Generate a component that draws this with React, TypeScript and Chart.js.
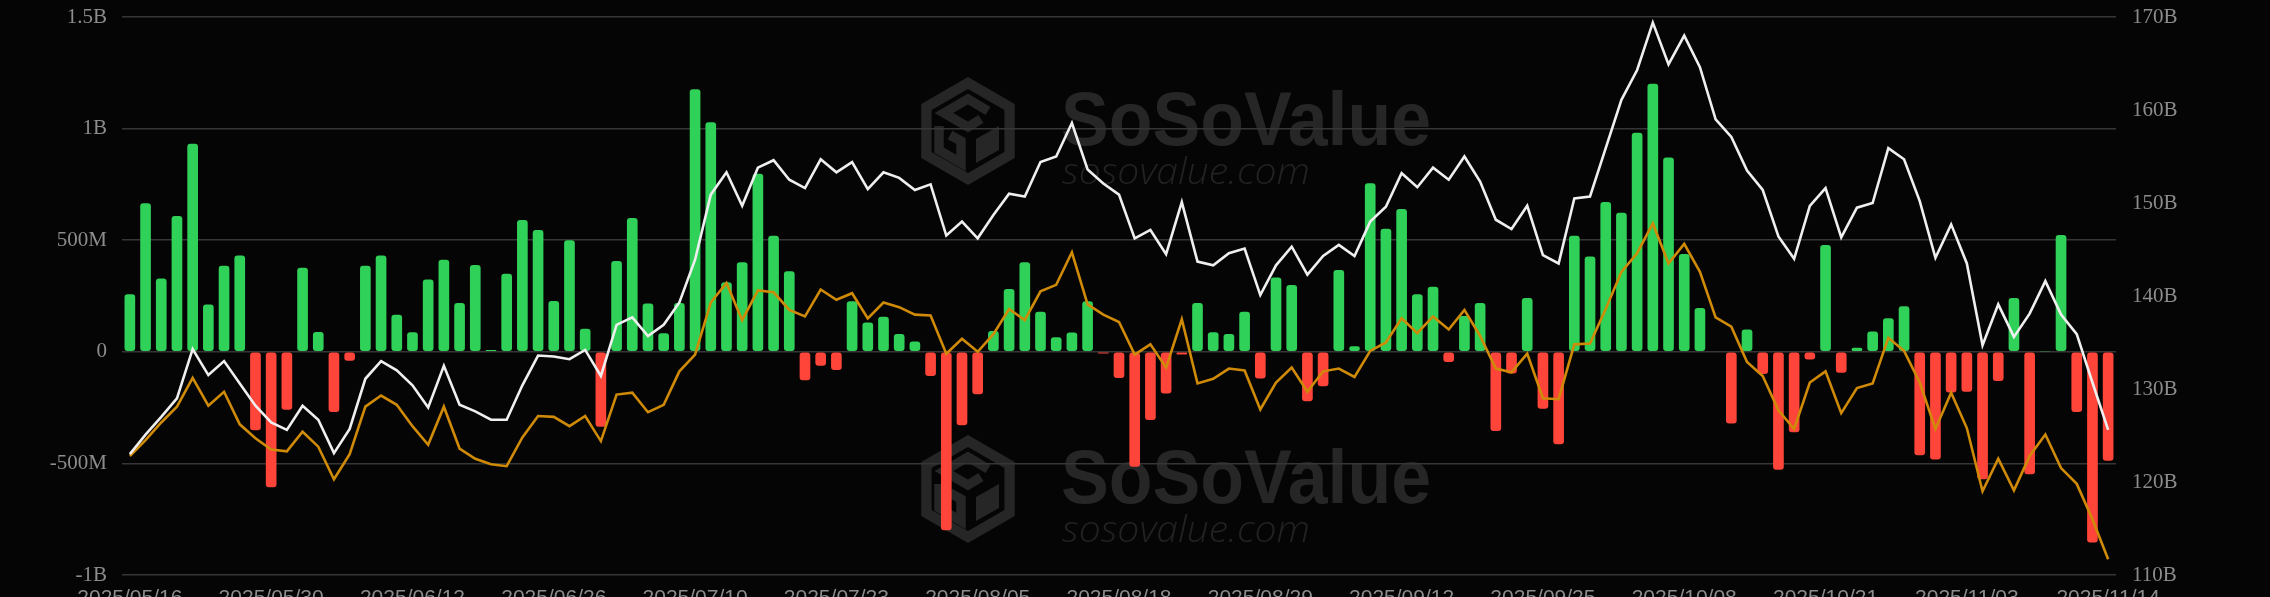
import React, { useEffect, useRef } from 'react';
import { Chart, registerables } from 'chart.js';

Chart.register(...registerables);

// ---- DATA ----
const dates: string[] = [
  '2025/05/16', '2025/05/19', '2025/05/20', '2025/05/21', '2025/05/22', '2025/05/23', '2025/05/27', '2025/05/28', '2025/05/29', '2025/05/30',
  '2025/06/02', '2025/06/03', '2025/06/04', '2025/06/05', '2025/06/06', '2025/06/09', '2025/06/10', '2025/06/11', '2025/06/12', '2025/06/13',
  '2025/06/16', '2025/06/17', '2025/06/18', '2025/06/20', '2025/06/23', '2025/06/24', '2025/06/25', '2025/06/26', '2025/06/27', '2025/06/30',
  '2025/07/01', '2025/07/02', '2025/07/03', '2025/07/07', '2025/07/08', '2025/07/09', '2025/07/10', '2025/07/11', '2025/07/14', '2025/07/15',
  '2025/07/16', '2025/07/17', '2025/07/18', '2025/07/21', '2025/07/22', '2025/07/23', '2025/07/24', '2025/07/25', '2025/07/28', '2025/07/29',
  '2025/07/30', '2025/07/31', '2025/08/01', '2025/08/04', '2025/08/05', '2025/08/06', '2025/08/07', '2025/08/08', '2025/08/11', '2025/08/12',
  '2025/08/13', '2025/08/14', '2025/08/15', '2025/08/18', '2025/08/19', '2025/08/20', '2025/08/21', '2025/08/22', '2025/08/25', '2025/08/26',
  '2025/08/27', '2025/08/28', '2025/08/29', '2025/09/02', '2025/09/03', '2025/09/04', '2025/09/05', '2025/09/08', '2025/09/09', '2025/09/10',
  '2025/09/11', '2025/09/12', '2025/09/15', '2025/09/16', '2025/09/17', '2025/09/18', '2025/09/19', '2025/09/22', '2025/09/23', '2025/09/24',
  '2025/09/25', '2025/09/26', '2025/09/29', '2025/09/30', '2025/10/01', '2025/10/02', '2025/10/03', '2025/10/06', '2025/10/07', '2025/10/08',
  '2025/10/09', '2025/10/10', '2025/10/13', '2025/10/14', '2025/10/15', '2025/10/16', '2025/10/17', '2025/10/20', '2025/10/21', '2025/10/22',
  '2025/10/23', '2025/10/24', '2025/10/27', '2025/10/28', '2025/10/29', '2025/10/30', '2025/10/31', '2025/11/03', '2025/11/04', '2025/11/05',
  '2025/11/06', '2025/11/07', '2025/11/10', '2025/11/11', '2025/11/12', '2025/11/13', '2025/11/14',
];

const shownDates: string[] = [
  '2025/05/16', '2025/05/30', '2025/06/12', '2025/06/26', '2025/07/10', '2025/07/23', '2025/08/05', '2025/08/18',
  '2025/08/29', '2025/09/12', '2025/09/25', '2025/10/08', '2025/10/21', '2025/11/03', '2025/11/14',
];

// daily net inflow, in millions of USD (left axis)
const netInflowM: number[] = [
  258, 665, 328, 608, 932, 212, 385, 432, -351, -607,
  -260, 377, 89, -270, -40, 386, 432, 166, 88, 324,
  412, 219, 389, 8, 350, 590, 546, 228, 500, 103,
  -336, 407, 600, 216, 83, 219, 1176, 1029, 312, 401,
  798, 520, 361, -128, -62, -82, 227, 131, 157, 80,
  46, -108, -799, -329, -190, 93, 281, 401, 179, 65,
  86, 227, -8, -117, -515, -306, -187, -12, 219, 88,
  80, 179, -120, 333, 299, -221, -154, 366, 25, 755,
  551, 640, 258, 292, -46, 160, 219, -355, -97, 241,
  -255, -414, 520, 427, 671, 623, 981, 1201, 870, 438,
  196, -3, -321, 100, -100, -529, -360, -35, 478, -94,
  18, 91, 150, 204, -463, -483, -182, -179, -571, -131,
  241, -549, 3, 523, -270, -854, -488,
];

// white line, billions of USD (right axis)
const whiteLineB: number[] = [
  123.0, 125.1, 127.0, 129.0, 134.3, 131.5, 133.0, 130.6, 128.2, 126.4,
  125.6, 128.2, 126.7, 123.1, 125.7, 131.1, 133.0, 132.0, 130.4, 128.0,
  132.5, 128.3, 127.6, 126.7, 126.7, 130.4, 133.6, 133.5, 133.2, 134.2,
  131.4, 136.9, 137.7, 135.7, 136.9, 139.3, 143.9, 150.9, 153.3, 149.7,
  153.8, 154.6, 152.5, 151.6, 154.7, 153.3, 154.4, 151.5, 153.3, 152.7,
  151.4, 152.0, 146.5, 148.0, 146.2, 148.7, 151.0, 150.7, 154.4, 155.0,
  158.6, 153.6, 152.1, 150.9, 146.2, 147.1, 144.5, 150.1, 143.7, 143.3,
  144.6, 145.1, 140.1, 143.3, 145.3, 142.3, 144.3, 145.5, 144.3, 148.0,
  149.6, 153.2, 151.7, 153.8, 152.5, 155.0, 152.3, 148.2, 147.2, 149.7,
  144.4, 143.5, 150.5, 150.7, 155.9, 161.1, 164.3, 169.4, 164.9, 168.0,
  164.6, 159.0, 157.1, 153.5, 151.4, 146.4, 144.0, 149.7, 151.6, 146.3,
  149.5, 150.0, 155.9, 154.7, 150.2, 144.1, 147.7, 143.5, 134.7, 139.1,
  135.6, 138.1, 141.6, 138.0, 135.9, 130.7, 125.6,
];

// gold line, billions of USD (right axis)
const goldLineB: number[] = [
  122.8, 124.5, 126.4, 128.1, 131.2, 128.2, 129.7, 126.2, 124.7, 123.5,
  123.3, 125.4, 123.8, 120.3, 123.0, 128.1, 129.3, 128.3, 126.0, 124.0,
  128.1, 123.6, 122.5, 121.9, 121.7, 124.8, 127.1, 127.0, 126.0, 127.1,
  124.4, 129.4, 129.6, 127.5, 128.3, 131.9, 133.7, 139.3, 141.4, 137.4,
  140.6, 140.4, 138.5, 137.8, 140.7, 139.6, 140.3, 137.6, 139.3, 138.8,
  138.0, 137.9, 133.8, 135.4, 134.0, 135.9, 138.6, 137.4, 140.5, 141.2,
  144.7, 139.1, 138.0, 137.2, 133.7, 134.8, 132.3, 137.5, 130.6, 131.1,
  132.2, 132.0, 127.8, 130.7, 132.3, 129.7, 131.9, 132.2, 131.3, 134.1,
  135.0, 137.6, 136.0, 137.8, 136.4, 138.5, 135.7, 132.2, 131.8, 133.8,
  129.0, 128.9, 134.8, 134.9, 138.6, 142.6, 144.6, 147.8, 143.5, 145.6,
  142.6, 137.7, 136.7, 132.9, 131.4, 127.7, 125.7, 130.7, 131.9, 127.4,
  130.1, 130.6, 135.5, 134.1, 130.7, 125.7, 129.6, 125.8, 119.0, 122.5,
  119.1, 122.8, 125.1, 121.5, 119.8, 116.0, 111.7,
];

const leftAxisM = { min: -1000, max: 1500, step: 500 };
const rightAxisB = { min: 110, max: 170, step: 10 };

// ---- STYLE ----
const W = 2270;
const H = 597;
const BG = '#050505';
const GREEN = '#30D158';
const RED = '#FF453A';
const WHITE = '#efefef';
const GOLD = '#cf8a08';
const GRID = '#363636';
const TICK = '#8c8c8c';
const WM = '#262626';

function fmtLeft(v: number): string {
  if (v === 0) return '0';
  if (Math.abs(v) >= 1000) return `${v / 1000}B`;
  return `${v}M`;
}

function drawLogo(ctx: CanvasRenderingContext2D, cx: number, cy: number) {
  const R = 54;
  const hex = (r: number) => {
    ctx.beginPath();
    for (let k = 0; k < 6; k++) {
      const a = (-90 + k * 60) * Math.PI / 180;
      const x = cx + r * Math.cos(a);
      const y = cy + r * Math.sin(a);
      if (k === 0) ctx.moveTo(x, y); else ctx.lineTo(x, y);
    }
    ctx.closePath();
  };
  ctx.fillStyle = WM;
  hex(R);
  ctx.fill();
  ctx.fillStyle = BG;
  hex(R - 12);
  ctx.fill();
  ctx.strokeStyle = WM;
  ctx.fillStyle = WM;
  ctx.lineWidth = 9.5;
  ctx.lineJoin = 'miter';
  ctx.beginPath();
  ctx.moveTo(cx + 20, cy - 20);
  ctx.lineTo(cx, cy - 32);
  ctx.lineTo(cx - 24, cy - 18);
  ctx.lineTo(cx, cy - 4);
  ctx.lineTo(cx + 13, cy - 12);
  ctx.stroke();
  ctx.beginPath();
  ctx.moveTo(cx - 29, cy - 5);
  ctx.lineTo(cx - 29, cy + 19);
  ctx.lineTo(cx - 7, cy + 32);
  ctx.lineTo(cx - 7, cy + 10);
  ctx.lineTo(cx - 18, cy + 4);
  ctx.stroke();
  ctx.beginPath();
  ctx.moveTo(cx + 8, cy + 8);
  ctx.lineTo(cx + 31, cy - 5);
  ctx.lineTo(cx + 31, cy + 19);
  ctx.lineTo(cx + 8, cy + 32);
  ctx.closePath();
  ctx.fill();
}

function fitText(ctx: CanvasRenderingContext2D, text: string, x: number, y: number, width: number) {
  const m = ctx.measureText(text).width;
  ctx.save();
  ctx.translate(x, y);
  ctx.scale(width / m, 1);
  ctx.fillText(text, 0, 0);
  ctx.restore();
}

const watermarkPlugin = {
  id: 'sosoWatermark',
  beforeDraw(chart: any) {
    const ctx: CanvasRenderingContext2D = chart.ctx;
    ctx.save();
    ctx.fillStyle = BG;
    ctx.fillRect(0, 0, chart.width, chart.height);
    for (const dy of [0, 358]) {
      drawLogo(ctx, 968, 131 + dy);
      ctx.fillStyle = WM;
      ctx.textBaseline = 'alphabetic';
      ctx.textAlign = 'left';
      ctx.font = 'bold 76px "Liberation Sans", Arial, sans-serif';
      fitText(ctx, 'SoSoValue', 1061, 145 + dy, 370);
      ctx.fillStyle = '#222222';
      ctx.font = 'italic 300 37px "Open Sans", "Liberation Sans", sans-serif';
      fitText(ctx, 'sosovalue.com', 1062, 184 + dy, 248);
    }
    ctx.restore();
  },
};

const noVerticalPadding = (s: any, width: number) => {
  s.width = width;
  s.paddingTop = 0;
  s.paddingBottom = 0;
};

export default function App() {
  const canvasRef = useRef<HTMLCanvasElement | null>(null);

  useEffect(() => {
    document.body.style.margin = '0';
    document.body.style.background = BG;
    const canvas = canvasRef.current;
    if (!canvas) return;

    const chart = new Chart(canvas, {
      type: 'bar',
      data: {
        labels: dates,
        datasets: [
          {
            type: 'line',
            label: 'White line',
            data: whiteLineB,
            yAxisID: 'y1',
            borderColor: WHITE,
            borderWidth: 2.6,
            pointRadius: 0,
            tension: 0,
            order: 0,
          } as any,
          {
            type: 'line',
            label: 'Gold line',
            data: goldLineB,
            yAxisID: 'y1',
            borderColor: GOLD,
            borderWidth: 2.6,
            pointRadius: 0,
            tension: 0,
            order: 1,
          } as any,
          {
            type: 'bar',
            label: 'Daily Net Inflow',
            data: netInflowM,
            yAxisID: 'y',
            backgroundColor: netInflowM.map((v) => (v >= 0 ? GREEN : RED)),
            borderWidth: 0,
            borderRadius: 3,
            borderSkipped: false,
            barPercentage: 0.68,
            categoryPercentage: 1.0,
            order: 2,
          } as any,
        ],
      },
      options: {
        responsive: false,
        maintainAspectRatio: false,
        animation: false,
        devicePixelRatio: 1,
        layout: { padding: { top: 17, left: 0, right: 0, bottom: 0 } },
        plugins: {
          legend: { display: false },
          tooltip: { enabled: false },
        },
        scales: {
          x: {
            type: 'category',
            offset: true,
            grid: { display: false, drawTicks: false },
            border: { display: false },
            ticks: {
              autoSkip: false,
              maxRotation: 0,
              minRotation: 0,
              padding: 11,
              color: TICK,
              font: { family: '"Liberation Sans", Arial, sans-serif', size: 21 },
              callback: (_v: any, i: number) => (shownDates.includes(dates[i]) ? dates[i] : ''),
            },
            afterFit: (s: any) => { s.height = 22; },
          },
          y: {
            position: 'left',
            min: leftAxisM.min,
            max: leftAxisM.max,
            grid: { color: GRID, lineWidth: 1.5, drawTicks: false },
            border: { display: false },
            ticks: {
              stepSize: leftAxisM.step,
              padding: 15,
              color: TICK,
              font: { family: '"Liberation Serif", "Times New Roman", serif', size: 21 },
              callback: (v: any) => fmtLeft(Number(v)),
            },
            afterFit: (s: any) => noVerticalPadding(s, 122),
          },
          y1: {
            position: 'right',
            min: rightAxisB.min,
            max: rightAxisB.max,
            grid: { display: false, drawTicks: false },
            border: { display: false },
            ticks: {
              stepSize: rightAxisB.step,
              padding: 16,
              color: TICK,
              font: { family: '"Liberation Serif", "Times New Roman", serif', size: 21 },
              callback: (v: any) => `${v}B`,
            },
            afterFit: (s: any) => noVerticalPadding(s, 154),
          },
        },
      },
      plugins: [watermarkPlugin],
    });

    return () => chart.destroy();
  }, []);

  return (
    <div style={{ position: 'absolute', left: 0, top: 0, width: W, height: H, background: BG, overflow: 'hidden' }}>
      <canvas ref={canvasRef} width={W} height={H} style={{ display: 'block', width: W, height: H }} />
    </div>
  );
}
